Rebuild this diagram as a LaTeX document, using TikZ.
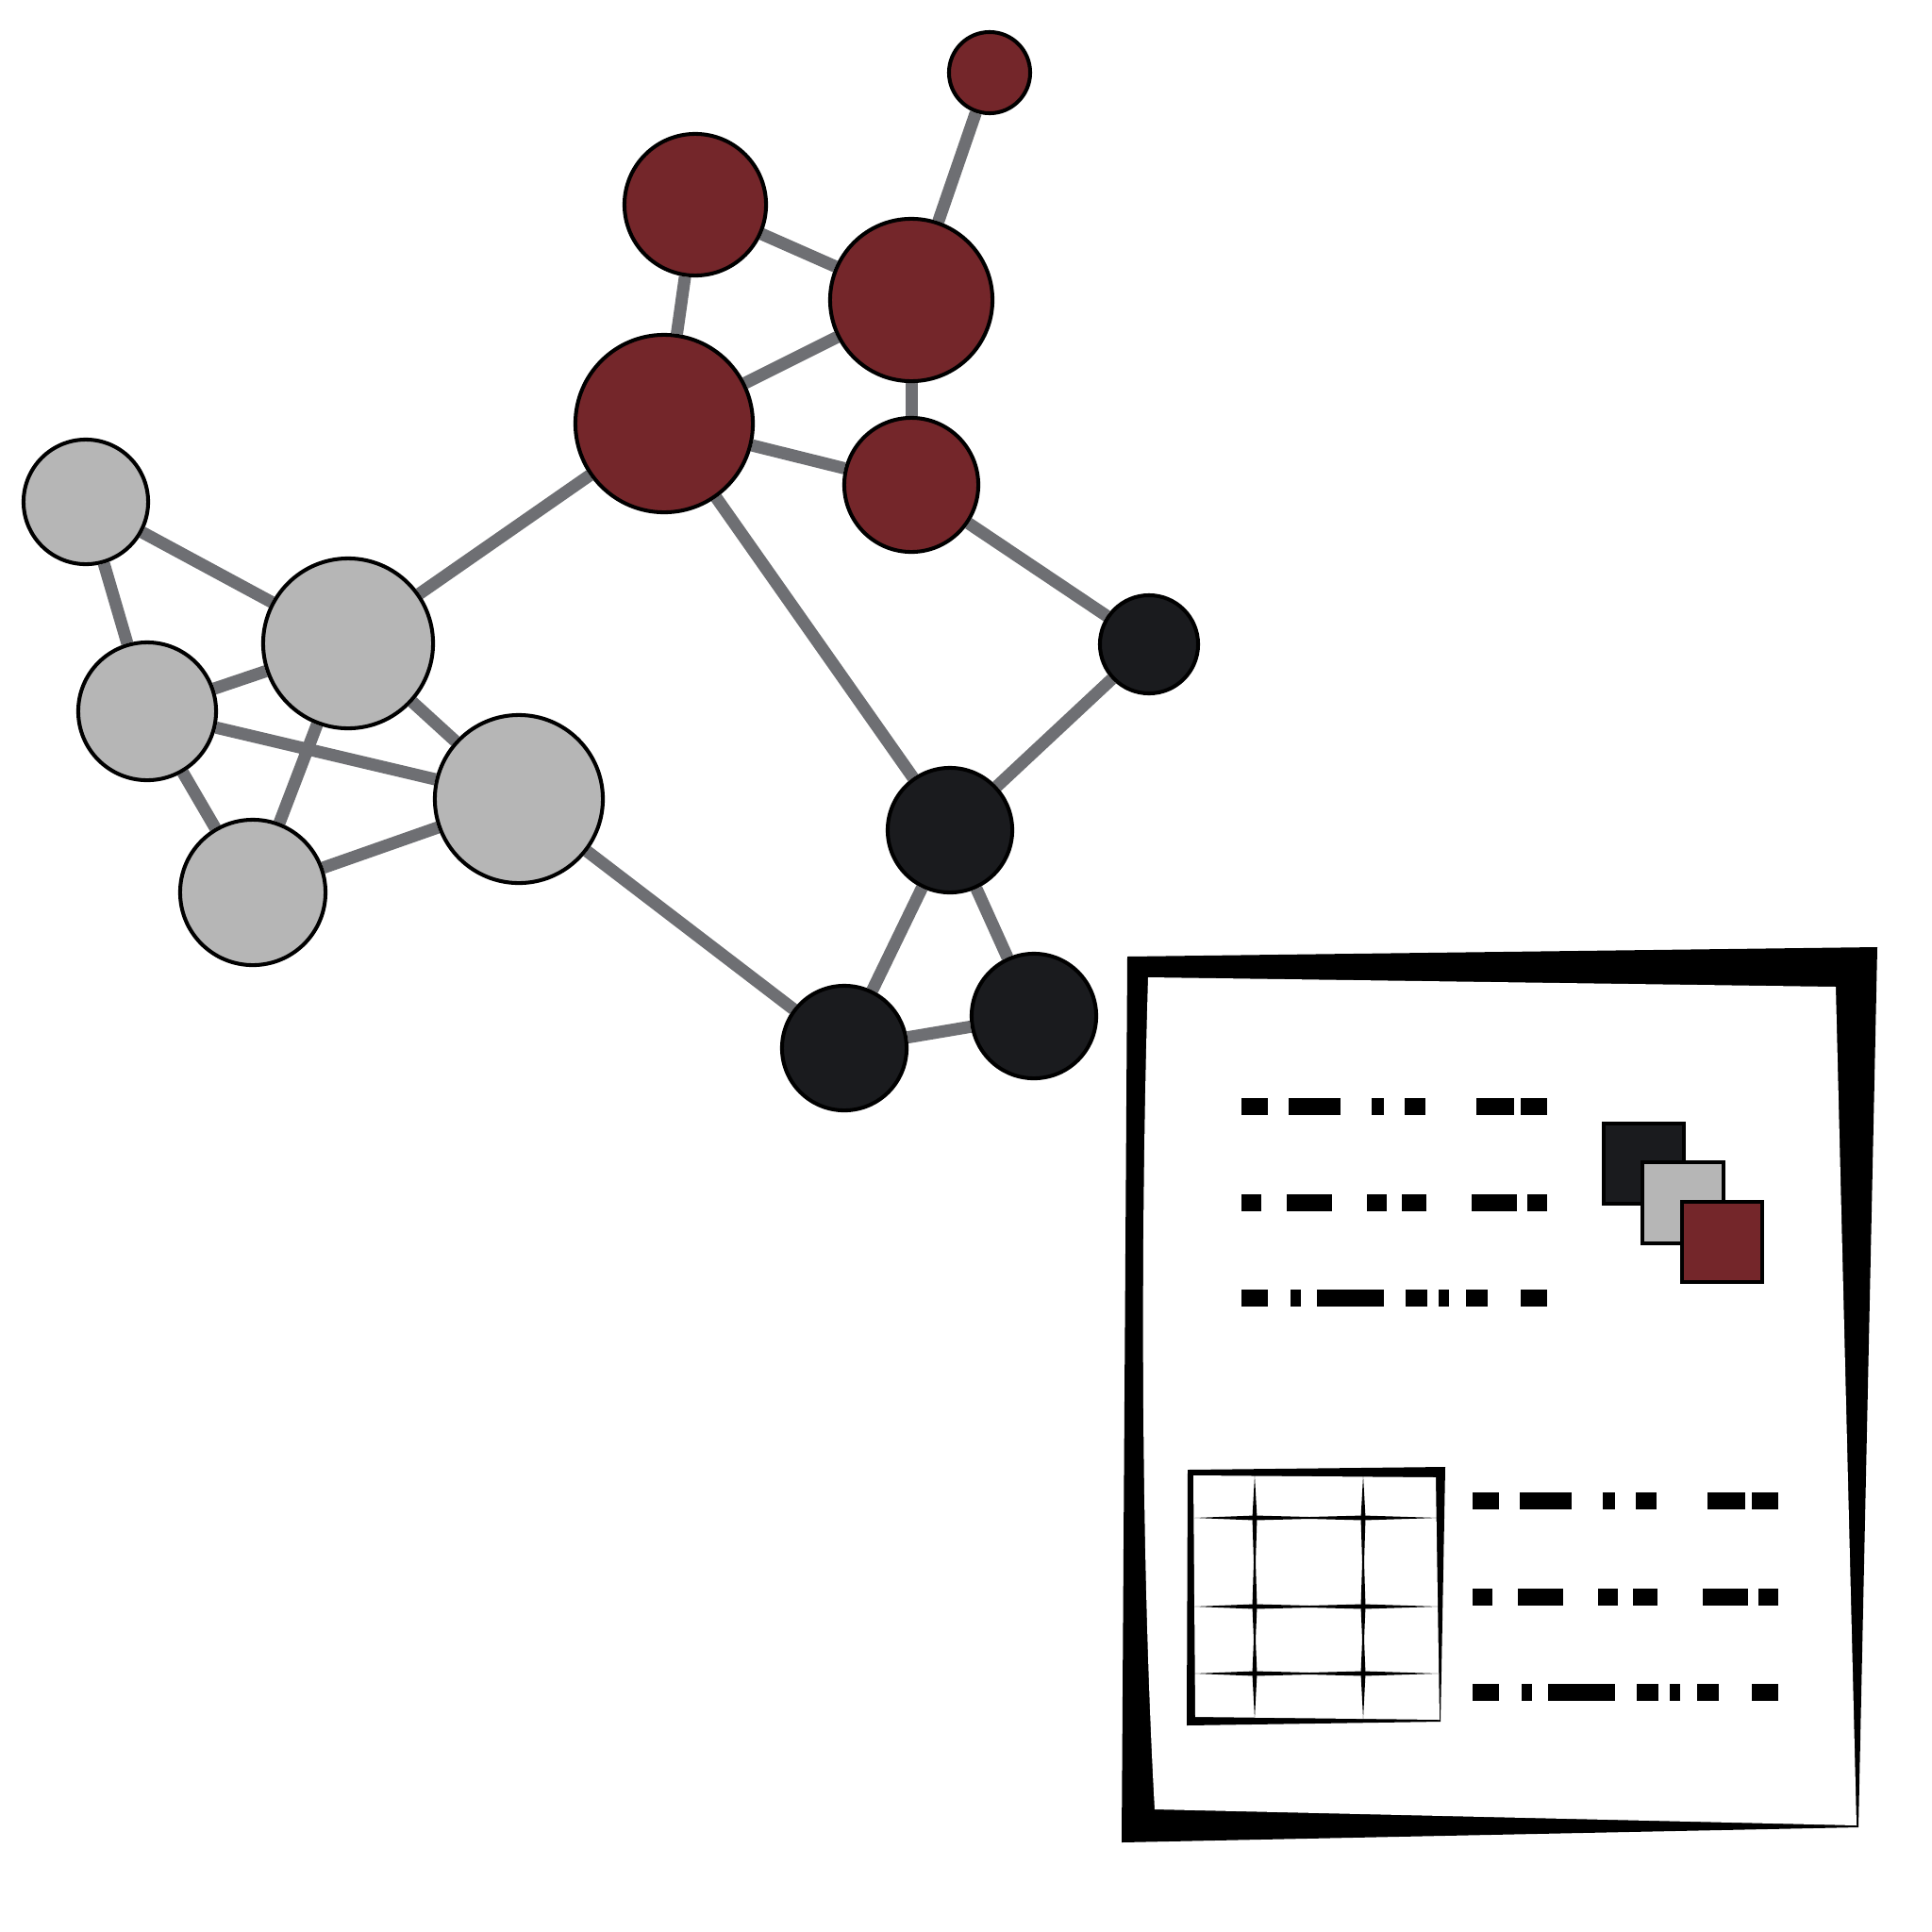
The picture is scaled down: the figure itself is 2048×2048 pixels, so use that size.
\documentclass[tikz,border=0pt]{standalone}
\usetikzlibrary{backgrounds}
\definecolor{nodered}{HTML}{74262A}
\definecolor{nodegrey}{HTML}{B6B6B6}
\definecolor{nodeblack}{HTML}{1A1B1E}
\definecolor{edgegrey}{HTML}{6E6F73}
\tikzset{
    vert/.style={circle, draw=black, line width=1.15pt, inner sep=0pt},
    redv/.style={vert, fill=nodered},
    greyv/.style={vert, fill=nodegrey},
    blackv/.style={vert, fill=nodeblack},
    edge/.style={draw=edgegrey, line width=3.7pt},
    keybox/.style={draw=black, line width=1.2pt}
}
% one block of three lines of "text"
\newcommand{\fakelines}{
\foreach \a/\b in {1316/1344,1366/1421,1454/1467,1489/1511,1565/1605,1612/1640}
{
    \fill (\a,1164) rectangle (\b,1182);
}
\foreach \a/\b in {1316/1337,1364/1412,1449/1470,1486/1512,1560/1608,1619/1640}
{
    \fill (\a,1266) rectangle (\b,1284);
}
\foreach \a/\b in {1316/1344,1368/1379,1396/1467,1490/1513,1525/1536,1554/1577,1612/1640}
{
    \fill (\a,1367) rectangle (\b,1385);
}
}
\begin{document}
\begin{tikzpicture}[x=0.01cm,y=-0.01cm]
\useasboundingbox (0,0) rectangle (2048,2048);
% the network
\foreach \n/\x/\y/\r in {r1/1049/77/43,r2/737/217/75,r3/966/318/86,r4/704/449/94,r5/966/514/71}
{
    \node[redv, minimum size=\r*0.02cm] (\n) at (\x,\y) {};
}
\foreach \n/\x/\y/\r in {g1/91/532/66,g2/369/682/90,g3/156/754/73,g4/550/847/89,g5/268/946/77}
{
    \node[greyv, minimum size=\r*0.02cm] (\n) at (\x,\y) {};
}
\foreach \n/\x/\y/\r in {b1/1218/683/52,b2/1007/880/66,b3/895/1111/66,b4/1096/1077/66}
{
    \node[blackv, minimum size=\r*0.02cm] (\n) at (\x,\y) {};
}
\begin{pgfonlayer}{background}
\foreach \a/\b in {r1/r3,r2/r3,r2/r4,r3/r4,r3/r5,r4/r5,r4/g2,r4/b2,r5/b1,b1/b2,b2/b3,b2/b4,b3/b4,g4/b3,
    g1/g2,g1/g3,g2/g3,g2/g4,g2/g5,g3/g4,g3/g5,g5/g4}
{
    \draw[edge] (\a) -- (\b);
}
\end{pgfonlayer}
% the sheet
\fill (1195,1014) -- (1990,1004) -- (1970,1937) -- (1189,1953) -- cycle;
\fill[white] (1217,1036) -- (1946,1046) -- (1968,1935) -- (1224,1918) .. controls (1209,1650) and (1209,1300) .. cycle;
\fakelines
\begin{scope}[shift={(245,418)}]
\fakelines
\end{scope}
% key
\draw[keybox, fill=nodeblack] (1700,1191) rectangle (1785,1276);
\draw[keybox, fill=nodegrey] (1741,1232) rectangle (1827,1318);
\draw[keybox, fill=nodered] (1783,1274) rectangle (1868,1359);
% table
\fill (1259,1558) -- (1532,1555) -- (1527,1825) -- (1258,1829) -- cycle;
\fill[white] (1265,1564) -- (1522,1566) -- (1526,1823) -- (1267,1820) -- cycle;
\foreach \x in {1330,1445}
{
    \fill (\x,1564) -- (\x-2.5,1609) -- (\x-1,1656) -- (\x-2.5,1703) -- (\x-1,1738) -- (\x-2.5,1774) -- (\x,1822)
        -- (\x+2.5,1774) -- (\x+1,1738) -- (\x+2.5,1703) -- (\x+1,1656) -- (\x+2.5,1609) -- cycle;
}
\foreach \y in {1609,1703,1774}
{
    \fill (1266,\y) -- (1330,\y-2.5) -- (1388,\y-1) -- (1445,\y-2.5) -- (1525,\y)
        -- (1445,\y+2.5) -- (1388,\y+1) -- (1330,\y+2.5) -- cycle;
}
\end{tikzpicture}
\end{document}
